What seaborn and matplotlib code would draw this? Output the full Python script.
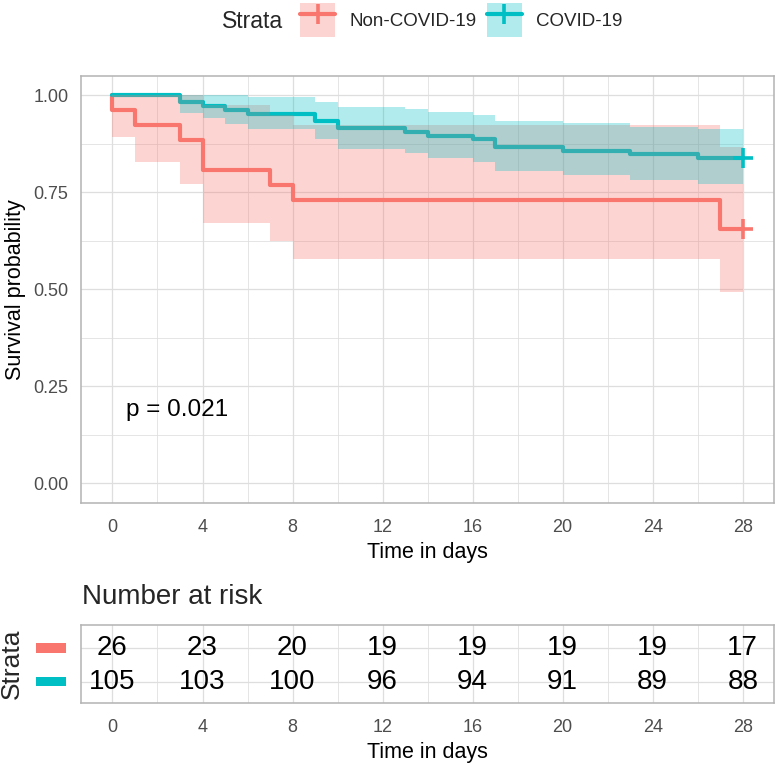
import numpy as np
import pandas as pd
import matplotlib
matplotlib.use("Agg")
import matplotlib.pyplot as plt
import matplotlib.transforms as mtransforms
from matplotlib.patches import Patch, Rectangle
from matplotlib.lines import Line2D
import seaborn as sns

# Kaplan-Meier estimates
t_non = [0, 0, 1, 3, 4, 7, 8, 27, 28]
s_non = [1.0, 0.962, 0.923, 0.885, 0.808, 0.769, 0.731, 0.654, 0.654]
lo_non = [1.0, 0.891, 0.827, 0.770, 0.670, 0.625, 0.579, 0.494, 0.494]
up_non = [1.0, 1.0, 1.0, 1.0, 0.974, 0.949, 0.923, 0.865, 0.865]

t_cov = [0, 3, 4, 5, 6, 9, 10, 13, 14, 16, 17, 20, 23, 26, 28]
s_cov = [1.0, 0.981, 0.971, 0.962, 0.952, 0.933, 0.914, 0.905, 0.895, 0.886,
         0.867, 0.857, 0.848, 0.838, 0.838]
lo_cov = [1.0, 0.955, 0.940, 0.926, 0.913, 0.887, 0.862, 0.850, 0.839, 0.827,
          0.804, 0.793, 0.782, 0.771, 0.771]
up_cov = [1.0, 1.0, 1.0, 0.999, 0.994, 0.982, 0.969, 0.963, 0.956, 0.949,
          0.934, 0.927, 0.919, 0.912, 0.912]

strata = ["Non-COVID-19", "COVID-19"]
censor_t = [28, 28]
censor_s = [0.654, 0.838]

risk_times = [0, 4, 8, 12, 16, 20, 24, 28]
risk_non = [26, 23, 20, 19, 19, 19, 19, 17]
risk_cov = [105, 103, 100, 96, 94, 91, 89, 88]

pval_text = "p = 0.021"

colors = {"Non-COVID-19": "#F8766D", "COVID-19": "#00BFC4"}

sns.set_theme(style="whitegrid")
plt.rcParams["font.family"] = ["Liberation Sans", "DejaVu Sans"]

df = pd.concat([
    pd.DataFrame({"time": t_non, "surv": s_non, "lower": lo_non, "upper": up_non, "Strata": strata[0]}),
    pd.DataFrame({"time": t_cov, "surv": s_cov, "lower": lo_cov, "upper": up_cov, "Strata": strata[1]}),
], ignore_index=True)

fig = plt.figure(figsize=(7.77, 7.63), dpi=100)
ax = fig.add_axes([0.1042, 0.3412, 0.8923, 0.5596])
ax2 = fig.add_axes([0.1042, 0.0790, 0.8923, 0.1019])

grid_c = "#DEDEDE"
border_c = "#B3B3B3"
tick_c = "#333333"
ticklab_c = "#4D4D4D"

# survival curves
sns.lineplot(data=df, x="time", y="surv", hue="Strata", palette=colors,
             estimator=None, sort=False, drawstyle="steps-post",
             linewidth=3.0, ax=ax, legend=False)
for ln in ax.lines:
    ln.set_zorder(2)

# confidence bands (drawn over the curves like survminer)
for name in strata:
    d = df[df["Strata"] == name]
    ax.fill_between(d["time"], d["lower"], d["upper"], step="post",
                    color=colors[name], alpha=0.3, linewidth=0, zorder=3)

# censor marks
for name, ct, cs in zip(strata, censor_t, censor_s):
    ax.plot([ct], [cs], marker="+", ms=14, mew=2.6, color=colors[name],
            linestyle="none", zorder=4)

ax.text(0.6, 0.19, pval_text, fontsize=17.5, ha="left", va="center", color="black")

def style_axes(a):
    a.set_xlim(-1.4, 29.4)
    a.set_xticks(risk_times)
    a.set_xticks(np.arange(2, 28, 4), minor=True)
    a.grid(True, which="major", color=grid_c, linewidth=0.9)
    a.grid(True, which="minor", color=grid_c, linewidth=0.55)
    a.set_axisbelow(True)
    for sp in a.spines.values():
        sp.set_visible(True)
        sp.set_color(border_c)
        sp.set_linewidth(1.1)
    a.tick_params(axis="both", which="major", length=5, width=1.1, color=tick_c,
                  labelsize=13, labelcolor=ticklab_c, pad=4)
    a.tick_params(axis="x", which="major", pad=7)
    a.tick_params(axis="both", which="minor", length=0)
    a.set_xlabel("Time in days", fontsize=15.5, color="black", labelpad=4)

style_axes(ax)
ax.set_ylim(-0.05, 1.05)
ax.set_yticks([0, 0.25, 0.5, 0.75, 1.0])
ax.set_yticklabels(["0.00", "0.25", "0.50", "0.75", "1.00"])
ax.set_yticks([0.125, 0.375, 0.625, 0.875], minor=True)
ax.set_ylabel("Survival probability", fontsize=15.5, color="black", labelpad=5)

# legend on top
handles = [(Patch(facecolor=colors[n], alpha=0.3, linewidth=0),
            Line2D([], [], color=colors[n], lw=3.0, marker="+", ms=14, mew=2.6))
           for n in strata]
fig.legend(handles, strata, loc="center left", bbox_to_anchor=(300 / 777, 1 - 20 / 763),
           ncol=2, frameon=False, fontsize=13.5, handlelength=1.87, handleheight=2.4,
           handletextpad=0.75, columnspacing=0.55, borderpad=0, borderaxespad=0,
           numpoints=1)
fig.text(222 / 777, 1 - 21 / 763, "Strata", fontsize=16.5, ha="left", va="center")

# risk table
style_axes(ax2)
ax2.set_ylim(0.38, 2.68)
ax2.set_yticks([1, 2])
ax2.set_yticklabels([])
ax2.tick_params(axis="y", length=0)
ax2.set_ylabel("")
rows = {strata[0]: (2, risk_non), strata[1]: (1, risk_cov)}
trans = mtransforms.blended_transform_factory(fig.transFigure, ax2.transData)
for name, (yrow, vals) in rows.items():
    for t, v in zip(risk_times, vals):
        ax2.text(t, yrow, str(v), fontsize=20, ha="center", va="center", color="black")
    ax2.add_patch(Rectangle((36 / 777, yrow - 0.14), 30 / 777, 0.28, transform=trans,
                            facecolor=colors[name], edgecolor="none", clip_on=False))

fig.text(81.7 / 777, 1 - 597 / 763, "Number at risk", fontsize=20, ha="left", va="center")
fig.text(12 / 777, 1 - 664 / 763, "Strata", fontsize=19, rotation=90,
         ha="center", va="center")

fig.savefig("out.png", dpi=100)
